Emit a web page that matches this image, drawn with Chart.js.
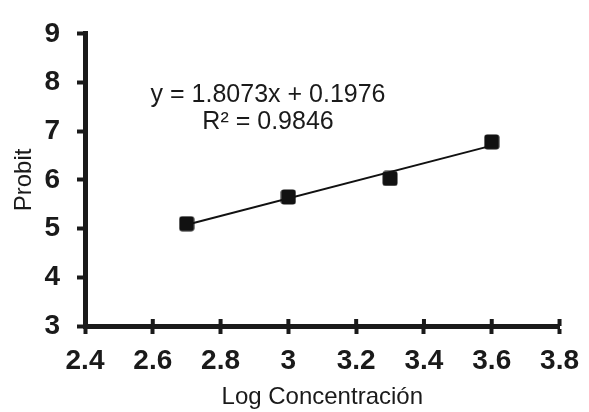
<!DOCTYPE html>
<html lang="es">
<head>
<meta charset="UTF-8">
<title>Probit vs Log Concentración</title>
<script src="https://cdn.jsdelivr.net/npm/chart.js"></script>
<style>
  html, body { margin: 0; padding: 0; background: #fff; }
</style>
</head>
<body>
<canvas id="probitChart" width="589" height="412"></canvas>
<script>
// puntos experimentales
const logConc = [2.7, 3.0, 3.3, 3.6];
const probit = [5.10, 5.65, 6.03, 6.78];

// recta de ajuste (línea de tendencia)
const pendiente = 1.8073;
const intercepto = 0.1976;
const r2 = 0.9846;

// marcas de los ejes
const xTicks = [2.4, 2.6, 2.8, 3.0, 3.2, 3.4, 3.6, 3.8];
const yTicks = [3, 4, 5, 6, 7, 8, 9];

const INK = '#1a1a1a';
const FONT = "'Liberation Sans', Arial, sans-serif";

// donde va el texto de la ecuación (en unidades de los ejes)
const eqPos = { x: 2.94, y1: 7.75, y2: 7.19 };

// marcador cuadrado con esquinas un poco redondeadas
const marker = document.createElement('canvas');
marker.width = 16;
marker.height = 16;
{
  const m = marker.getContext('2d');
  m.fillStyle = '#111';
  m.beginPath();
  m.roundRect(0.5, 0.5, 15, 15, 3);
  m.fill();
}

const xMin = Math.min(...logConc);
const xMax = Math.max(...logConc);
const tendencia = [xMin, xMax].map(v => ({ x: v, y: pendiente * v + intercepto }));

// ticks del eje x que cruzan la línea, y la ecuación
const extras = {
  id: 'extras',
  afterDraw(chart) {
    const { ctx, scales: { x, y } } = chart;
    ctx.save();
    ctx.strokeStyle = INK;
    ctx.lineWidth = 4;
    const y0 = y.getPixelForValue(y.min);
    x.ticks.forEach(t => {
      const px = x.getPixelForValue(t.value);
      ctx.beginPath();
      ctx.moveTo(px, y0 - 7);
      ctx.lineTo(px, y0);
      ctx.stroke();
    });

    ctx.font = '25px ' + FONT;
    ctx.fillStyle = INK;
    ctx.textAlign = 'center';
    ctx.textBaseline = 'middle';
    const cx = x.getPixelForValue(eqPos.x);
    ctx.fillText('y = ' + pendiente + 'x + ' + intercepto, cx, y.getPixelForValue(eqPos.y1));
    ctx.fillText('R² = ' + r2, cx, y.getPixelForValue(eqPos.y2));
    ctx.restore();
  }
};

const ctx = document.getElementById('probitChart').getContext('2d');
new Chart(ctx, {
  type: 'scatter',
  data: {
    datasets: [
      {
        label: 'Probit',
        data: logConc.map((v, i) => ({ x: v, y: probit[i] })),
        pointStyle: marker,
        pointRadius: 8,
        order: 0
      },
      {
        type: 'line',
        label: 'Lineal',
        data: tendencia,
        borderColor: '#111',
        borderWidth: 2,
        pointRadius: 0,
        fill: false,
        order: 1
      }
    ]
  },
  options: {
    responsive: false,
    animation: false,
    layout: { padding: { top: 28, right: 28, left: 0, bottom: 0 } },
    plugins: { legend: { display: false }, tooltip: { enabled: false } },
    scales: {
      x: {
        type: 'linear',
        min: 2.4,
        max: 3.8,
        afterBuildTicks: s => { s.ticks = xTicks.map(v => ({ value: v })); },
        afterFit: s => { s.height = 86; },
        border: { display: true, color: INK, width: 5 },
        grid: { drawOnChartArea: false, tickLength: 8, tickWidth: 4, color: INK, tickColor: INK },
        ticks: {
          color: INK,
          padding: 10,
          maxRotation: 0,
          autoSkip: false,
          font: { family: FONT, size: 28, weight: 'bold' },
          callback: v => String(+v.toFixed(1))
        },
        title: {
          display: true,
          text: 'Log Concentración',
          color: INK,
          font: { family: FONT, size: 24 },
          padding: { top: 0, bottom: 0 }
        }
      },
      y: {
        min: 3,
        max: 9,
        afterBuildTicks: s => { s.ticks = yTicks.map(v => ({ value: v })); },
        afterFit: s => { s.width = 85; },
        border: { display: true, color: INK, width: 5 },
        grid: { drawOnChartArea: false, tickLength: 8, tickWidth: 4, color: INK, tickColor: INK },
        ticks: {
          color: INK,
          padding: 17,
          font: { family: FONT, size: 28, weight: 'bold' }
        },
        title: {
          display: true,
          text: 'Probit',
          color: INK,
          font: { family: FONT, size: 24 },
          padding: { top: 10, bottom: 0 }
        }
      }
    }
  },
  plugins: [extras]
});
</script>
</body>
</html>
